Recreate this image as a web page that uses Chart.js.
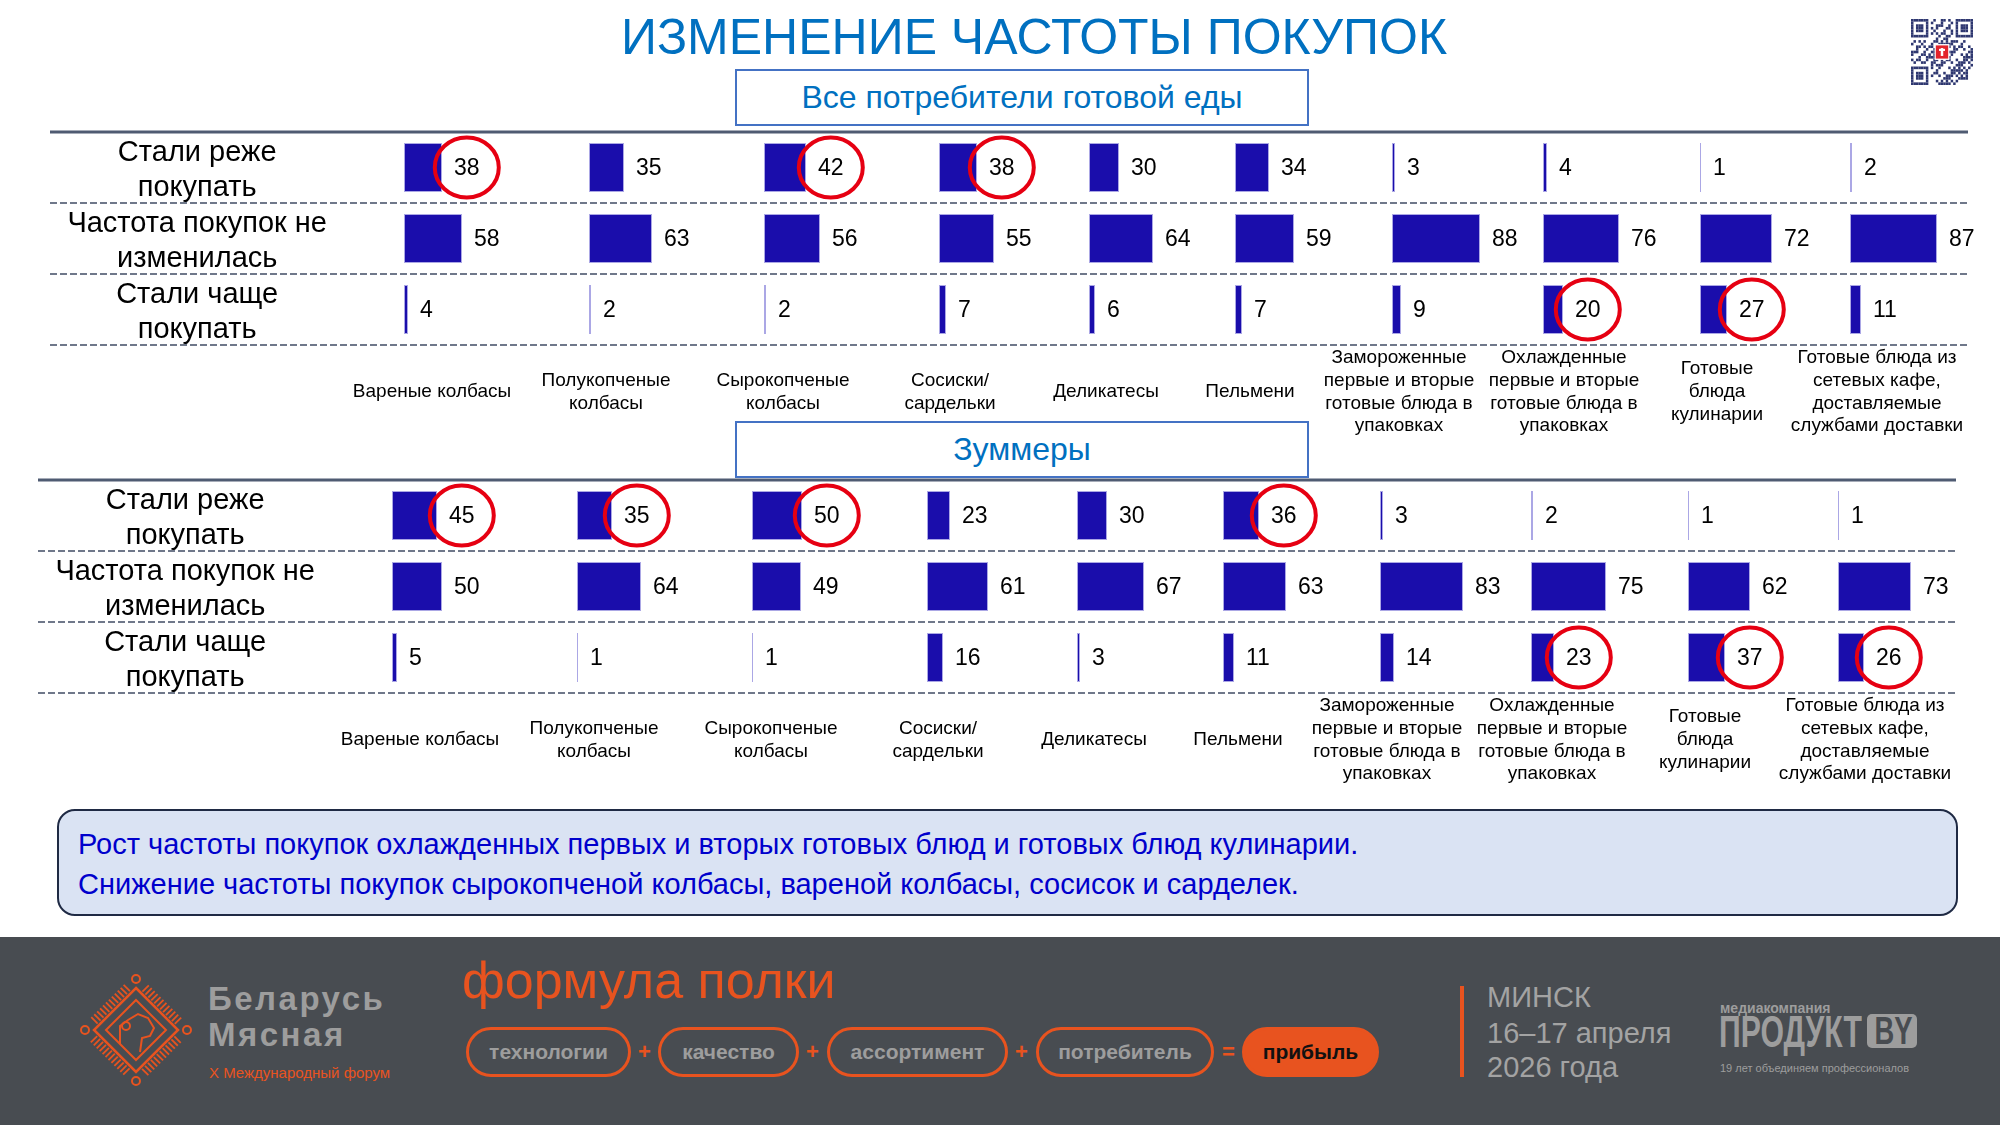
<!DOCTYPE html>
<html lang="ru">
<head>
<meta charset="utf-8">
<title>Изменение частоты покупок</title>
<script src="https://cdn.jsdelivr.net/npm/chart.js@4.4.1/dist/chart.umd.min.js"></script>
<style>
  html, body { margin: 0; padding: 0; }
  body { width: 2000px; height: 1125px; position: relative; overflow: hidden; background: #fff;
         font-family: "Liberation Sans", Arial, sans-serif; }
  .abs { position: absolute; white-space: nowrap; }
  canvas { position: absolute; }
  #title { left: 1034px; top: 12px; transform: translateX(-50%); font-size: 50px; line-height: 50px; color: #0070C0; }
  .section { left: 735px; width: 570px; height: 53px; border: 2px solid #4472C4; color: #0070C0; font-size: 32px;
             display: flex; align-items: center; justify-content: center; background: #fff; z-index: 2; }
  #summary { left: 57px; top: 809px; width: 1897px; height: 103px; border: 2px solid #1F2A44; border-radius: 18px; background: #DAE3F3; }
  #summary p { margin: 0; position: absolute; left: 19px; font-size: 29px; line-height: 40px; color: #0000CC; white-space: nowrap; }
  #footer { left: 0; top: 937px; width: 2000px; height: 188px; background: #484C51; }
  .gray { color: #9D9D9D; }
  .orange { color: #E8531F; }
  .pill { top: 1027px; height: 44px; border: 3px solid #E8531F; border-radius: 25px; display: flex; align-items: center;
          justify-content: center; font-weight: bold; font-size: 21px; color: #9D9D9D; box-sizing: content-box; }
  .op { top: 1038px; font-size: 22px; font-weight: bold; color: #E8531F; line-height: 28px; }
  .city { left: 1487px; font-size: 29px; line-height: 29px; color: #A3A3A3; }
</style>
</head>
<body>

<div id="title" class="abs">ИЗМЕНЕНИЕ ЧАСТОТЫ ПОКУПОК</div>
<svg id="qr" class="abs" style="left:1911px; top:19px" width="62" height="66" viewBox="0 0 25 25" preserveAspectRatio="none"></svg>

<div class="abs section" style="top:69px">Все потребители готовой еды</div>
<div class="abs section" style="top:421px">Зуммеры</div>

<canvas id="panelAll" width="2000" height="320" style="left:0; top:120px"></canvas>
<canvas id="panelZoom" width="2000" height="320" style="left:-12px; top:468px"></canvas>

<div id="summary" class="abs">
  <p style="top:13px">Рост частоты покупок охлажденных первых и вторых готовых блюд и готовых блюд кулинарии.</p>
  <p style="top:53px">Снижение частоты покупок сырокопченой колбасы, вареной колбасы, сосисок и сарделек.</p>
</div>

<div id="footer" class="abs"></div>
<svg id="logo" class="abs" style="left:80px; top:974px" width="112" height="112" viewBox="0 0 112 112"></svg>
<div class="abs gray" style="left:208px; top:982px; font-size:33px; line-height:33px; font-weight:bold; letter-spacing:2.5px">Беларусь</div>
<div class="abs gray" style="left:208px; top:1018px; font-size:33px; line-height:33px; font-weight:bold; letter-spacing:2.5px">Мясная</div>
<div class="abs orange" style="left:209px; top:1065px; font-size:15px; line-height:15px">X Международный форум</div>

<div class="abs orange" style="left:462px; top:954px; font-size:52px; line-height:52px">формула полки</div>
<div class="abs pill" style="left:466px; width:159px">технологии</div>
<div class="abs op" style="left:638px">+</div>
<div class="abs pill" style="left:658px; width:135px">качество</div>
<div class="abs op" style="left:806px">+</div>
<div class="abs pill" style="left:827px; width:175px">ассортимент</div>
<div class="abs op" style="left:1015px">+</div>
<div class="abs pill" style="left:1036px; width:172px">потребитель</div>
<div class="abs op" style="left:1222px">=</div>
<div class="abs pill" style="left:1242px; width:131px; background:#E8531F; color:#111">прибыль</div>

<div class="abs" style="left:1460px; top:986px; width:4px; height:91px; background:#E8531F"></div>
<div class="abs city" style="top:983px">МИНСК</div>
<div class="abs city" style="top:1019px">16–17 апреля</div>
<div class="abs city" style="top:1053px">2026 года</div>

<div class="abs gray" style="left:1720px; top:1001px; font-size:14px; line-height:14px; font-weight:bold">медиакомпания</div>
<div id="brand" class="abs gray" style="left:1719px; top:1009px; font-size:45px; line-height:45px; font-weight:bold; transform-origin:left">ПРОДУКТ</div>
<div class="abs" style="left:1867px; top:1014px; width:50px; height:34px; background:#9D9D9D; border-radius:5px; color:#484C51;
     font-weight:bold; font-size:38px; line-height:34px; text-align:center"><span style="display:inline-block; transform:scaleX(0.72)">BY</span></div>
<div class="abs gray" style="left:1720px; top:1063px; font-size:11px; line-height:11px">19 лет объединяем профессионалов</div>

<script>
// Подписи колонок (категории продуктов) и строк
const categories = [
  ['Вареные колбасы'],
  ['Полукопченые', 'колбасы'],
  ['Сырокопченые', 'колбасы'],
  ['Сосиски/', 'сардельки'],
  ['Деликатесы'],
  ['Пельмени'],
  ['Замороженные', 'первые и вторые', 'готовые блюда в', 'упаковках'],
  ['Охлажденные', 'первые и вторые', 'готовые блюда в', 'упаковках'],
  ['Готовые', 'блюда', 'кулинарии'],
  ['Готовые блюда из', 'сетевых кафе,', 'доставляемые', 'службами доставки']
];
const rowLabels = [['Стали реже', 'покупать'], ['Частота покупок не', 'изменилась'], ['Стали чаще', 'покупать']];

// Все потребители готовой еды, %
const allRarer = [38, 35, 42, 38, 30, 34, 3, 4, 1, 2];
const allSame  = [58, 63, 56, 55, 64, 59, 88, 76, 72, 87];
const allMore  = [4, 2, 2, 7, 6, 7, 9, 20, 27, 11];
// значения, обведённые кружком: [строка, колонка]
const allCircled = [[0, 0], [0, 2], [0, 3], [2, 7], [2, 8]];

// Зуммеры, %
const zoomRarer = [45, 35, 50, 23, 30, 36, 3, 2, 1, 1];
const zoomSame  = [50, 64, 49, 61, 67, 63, 83, 75, 62, 73];
const zoomMore  = [5, 1, 1, 16, 3, 11, 14, 23, 37, 26];
const zoomCircled = [[0, 0], [0, 1], [0, 2], [0, 5], [2, 7], [2, 8], [2, 9]];

// Раскладка колонок, px: ширина колонки и отступ начала столбика от её левого края
const colWidths  = [174, 174, 180, 154, 158, 130, 168, 162, 144, 176];
const barOffsets = [59, 70, 71, 66, 62, 50, 77, 60, 55, 61];

const FONT = '"Liberation Sans", Arial, sans-serif';
const BAR_COLOR = '#1A0DAB';
const LABEL_SIZE = 19;
const LABEL_LH = LABEL_SIZE * 1.2;

// Линии-разделители строк (сплошная сверху, пунктир снизу)
const rowLines = {
  id: 'rowLines',
  beforeDatasetsDraw(chart, args, opts) {
    const y = chart.scales.y;
    const ctx = chart.ctx;
    const half = (y.getPixelForValue(1) - y.getPixelForValue(0)) / 2;
    const edges = [y.getPixelForValue(0) - half];
    for (let i = 0; i < rowLabels.length; i++) edges.push(y.getPixelForValue(i) + half);
    ctx.save();
    edges.forEach((py, k) => {
      ctx.beginPath();
      if (k === 0) {
        ctx.setLineDash([]);
        ctx.lineWidth = 3;
        ctx.strokeStyle = '#4F5B72';
      } else {
        ctx.setLineDash([7, 3]);
        ctx.lineWidth = 2;
        ctx.strokeStyle = '#6F788A';
      }
      ctx.moveTo(opts.from, Math.round(py));
      ctx.lineTo(opts.to, Math.round(py));
      ctx.stroke();
    });
    ctx.restore();
  }
};

// Подписи значений справа от столбиков + красные кружки
const valueLabels = {
  id: 'valueLabels',
  afterDatasetsDraw(chart, args, opts) {
    const ctx = chart.ctx;
    ctx.save();
    ctx.font = '23px ' + FONT;
    ctx.textAlign = 'left';
    ctx.textBaseline = 'middle';
    chart.data.datasets.forEach((ds, col) => {
      chart.getDatasetMeta(col).data.forEach((bar, row) => {
        const text = String(ds.data[row]);
        const x = bar.x + 12;
        ctx.fillStyle = '#000';
        ctx.fillText(text, x, bar.y + 1);
        if (opts.circled.some(c => c[0] === row && c[1] === col)) {
          const w = ctx.measureText(text).width;
          ctx.beginPath();
          ctx.ellipse(x + w / 2, bar.y, 32, 30, 0, 0, Math.PI * 2);
          ctx.lineWidth = 4;
          ctx.strokeStyle = '#E60012';
          ctx.stroke();
        }
      });
    });
    ctx.restore();
  }
};

function makePanel(canvasId, rarer, same, more, circled) {
  const ctx = document.getElementById(canvasId).getContext('2d');

  // одна серия на колонку, у каждой своя ось x (оси стоят рядом в общем стеке)
  const datasets = categories.map((cat, i) => ({
    label: cat.join(' '),
    data: [rarer[i], same[i], more[i]],
    xAxisID: 'x' + i,
    backgroundColor: BAR_COLOR,
    borderColor: 'rgba(150, 145, 222, 0.8)',
    borderWidth: 1,
    borderSkipped: false,
    grouped: false,
    categoryPercentage: 1,
    barPercentage: 0.69
  }));

  const scales = {
    y: {
      type: 'category',
      position: 'left',
      grid: { display: false, drawTicks: false },
      border: { display: false },
      ticks: {
        color: '#000',
        font: { family: FONT, size: 29, lineHeight: 1.2 },
        crossAlign: 'center',
        padding: 18,
        labelOffset: 3,
        autoSkip: false
      },
      afterFit: s => { s.width = 345; s.paddingTop = 0; s.paddingBottom = 0; }
    }
  };
  categories.forEach((cat, i) => {
    const pad = (4 - cat.length) * LABEL_LH / 2 + 1.4;
    scales['x' + i] = {
      type: 'linear',
      position: 'bottom',
      stack: 'cols',
      stackWeight: colWidths[i],
      min: -barOffsets[i],
      max: colWidths[i] - barOffsets[i],
      grid: { display: false, drawTicks: false },
      border: { display: false },
      ticks: { display: false },
      title: {
        display: true,
        text: cat,
        color: '#000',
        font: { family: FONT, size: LABEL_SIZE, lineHeight: 1.2 },
        padding: { top: pad, bottom: pad }
      }
    };
  });

  return new Chart(ctx, {
    type: 'bar',
    data: { labels: rowLabels, datasets: datasets },
    options: {
      indexAxis: 'y',
      responsive: false,
      animation: false,
      events: [],
      layout: { padding: { top: 12, right: 35, bottom: 1, left: 0 } },
      scales: scales,
      plugins: {
        legend: { display: false },
        tooltip: { enabled: false },
        rowLines: { from: 50, to: 1968 },
        valueLabels: { circled: circled }
      }
    },
    plugins: [rowLines, valueLabels]
  });
}

makePanel('panelAll', allRarer, allSame, allMore, allCircled);
makePanel('panelZoom', zoomRarer, zoomSame, zoomMore, zoomCircled);

// «ПРОДУКТ» — узкое начертание: подгоняем под ширину 143 px
const brand = document.getElementById('brand');
brand.style.transform = 'scaleX(' + (143 / brand.offsetWidth) + ')';

// QR-код в углу (декоративный)
function drawQr() {
  const svg = document.getElementById('qr');
  const n = 25;
  let html = '';
  const inFinder = (x, y) => (x < 8 && y < 8) || (x > n - 9 && y < 8) || (x < 8 && y > n - 9);
  for (let y = 0; y < n; y++) {
    for (let x = 0; x < n; x++) {
      let on;
      if (inFinder(x, y)) {
        const fx = x < 8 ? x : x - (n - 7);
        const fy = y < 8 ? y : y - (n - 7);
        if (fx > 6 || fy > 6 || fx < 0 || fy < 0) { on = false; }
        else {
          const edge = fx === 0 || fx === 6 || fy === 0 || fy === 6;
          const core = fx >= 2 && fx <= 4 && fy >= 2 && fy <= 4;
          on = edge || core;
        }
      } else {
        on = ((x * 7 + y * 13 + (x * y) % 5) % 3) === 0 || ((x ^ y) % 4 === 1 && (x + y) % 3 !== 0);
      }
      if (on) html += '<rect x="' + x + '" y="' + y + '" width="1" height="1" fill="#2E3770"/>';
    }
  }
  html += '<rect x="9.5" y="9.5" width="6" height="6" fill="#fff"/>';
  html += '<rect x="10" y="10" width="5" height="5" fill="#E3242B"/>';
  html += '<rect x="12" y="11" width="1" height="3" fill="#fff"/><rect x="11.3" y="11.3" width="2.4" height="0.8" fill="#fff"/>';
  svg.innerHTML = html;
}

// Логотип «Беларусь Мясная» — ромб с насечками
function drawLogo() {
  const svg = document.getElementById('logo');
  const c = '#E8531F';
  let html = '';
  html += '<polygon points="56,14 98,56 56,98 14,56" fill="none" stroke="' + c + '" stroke-width="2.5"/>';
  html += '<polygon points="56,26 86,56 56,86 26,56" fill="none" stroke="' + c + '" stroke-width="2"/>';
  const corners = [[56, 14], [98, 56], [56, 98], [14, 56]];
  for (let e = 0; e < 4; e++) {
    const a = corners[e], b = corners[(e + 1) % 4];
    const dx = b[0] - a[0], dy = b[1] - a[1];
    const len = Math.hypot(dx, dy);
    const nx = dy / len, ny = -dx / len;
    for (let t = 0.12; t < 0.9; t += 0.07) {
      const px = a[0] + dx * t, py = a[1] + dy * t;
      html += '<line x1="' + (px + nx * 2) + '" y1="' + (py + ny * 2) + '" x2="' + (px + nx * 11) + '" y2="' + (py + ny * 11) +
        '" stroke="' + c + '" stroke-width="1.8"/>';
    }
  }
  html += '<circle cx="56" cy="5" r="4" fill="none" stroke="' + c + '" stroke-width="2"/>';
  html += '<circle cx="107" cy="56" r="4" fill="none" stroke="' + c + '" stroke-width="2"/>';
  html += '<circle cx="56" cy="107" r="4" fill="none" stroke="' + c + '" stroke-width="2"/>';
  html += '<circle cx="5" cy="56" r="4" fill="none" stroke="' + c + '" stroke-width="2"/>';
  html += '<path d="M40 70 L40 52 L48 46 L58 40 L68 44 L74 54 L70 62 L62 64 L60 78" fill="none" stroke="' + c + '" stroke-width="2"/>';
  html += '<circle cx="46" cy="52" r="4" fill="none" stroke="' + c + '" stroke-width="2"/>';
  svg.innerHTML = html;
}

drawQr();
drawLogo();
</script>
</body>
</html>
